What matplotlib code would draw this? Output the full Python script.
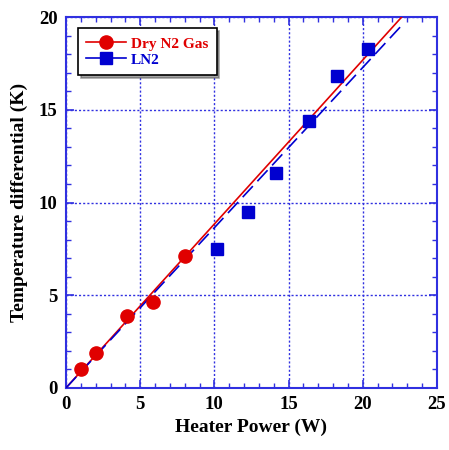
import matplotlib
matplotlib.use("Agg")
import matplotlib.pyplot as plt
import numpy as np
from matplotlib.ticker import MultipleLocator
from matplotlib.lines import Line2D

# Data
dry_x = [1.0, 2.0, 4.1, 5.85, 8.0]
dry_y = [1.02, 1.87, 3.86, 4.62, 7.12]
ln2_x = [10.2, 12.25, 14.15, 16.4, 18.3, 20.35]
ln2_y = [7.48, 9.49, 11.57, 14.41, 16.8, 18.26]
dry_slope = 0.884
ln2_slope = 0.864
fit_range = [0.0, 22.65]
labels = ["Dry N2 Gas", "LN2"]

RED = "#e00000"
BLUE = "#0000d0"
AX = "#3030e0"

plt.rcParams['font.family'] = ['Liberation Serif', 'DejaVu Serif']
plt.rcParams['font.weight'] = 'bold'

fig = plt.figure(figsize=(4.49, 4.5), dpi=100)
ax = fig.add_axes([0.147, 0.138, 0.826, 0.824])

fx = np.array(fit_range)
ax.plot(fx, dry_slope * fx, color=RED, lw=1.2, zorder=3)
ax.plot(fx, ln2_slope * fx, color=BLUE, lw=1.2, ls=(0, (9, 4)), zorder=3)
ax.plot(dry_x, dry_y, 'o', color=RED, ms=9.5, zorder=4)
ax.plot(ln2_x, ln2_y, 's', color=BLUE, ms=8.6, zorder=4)

ax.set_xlim(0, 25)
ax.set_ylim(0, 20)
ax.xaxis.set_major_locator(MultipleLocator(5))
ax.yaxis.set_major_locator(MultipleLocator(5))
ax.xaxis.set_minor_locator(MultipleLocator(1))
ax.yaxis.set_minor_locator(MultipleLocator(1))
ax.tick_params(which='both', direction='in', color=AX, top=True, right=True)
ax.tick_params(which='major', length=6, width=1.2, labelsize=13.5, pad=6)
ax.tick_params(which='minor', length=3.5, width=1.0)
for lab in ax.get_xticklabels() + ax.get_yticklabels():
    lab.set_fontweight('bold')
for s in ax.spines.values():
    s.set_color(AX)
    s.set_linewidth(1.5)
ax.grid(True, which='major', color=AX, ls=(0, (1.5, 1.5)), lw=1.0)

ax.set_xlabel("Heater Power (W)", fontsize=14, fontweight='bold', labelpad=4)
ax.set_ylabel("Temperature differential (K)", fontsize=14, fontweight='bold', labelpad=8)

handles = [Line2D([], [], color=RED, marker='o', ms=9.5, lw=1.2),
           Line2D([], [], color=BLUE, marker='s', ms=8.6, lw=1.2)]
leg = ax.legend(handles, labels, loc='upper left', bbox_to_anchor=(0.012, 0.99),
                fancybox=False, shadow=True, framealpha=1, edgecolor='black',
                prop={'family': 'Liberation Serif', 'weight': 'bold', 'size': 11},
                handlelength=2.6, handletextpad=0.3, borderpad=0.55, labelspacing=0.15)
leg.get_frame().set_linewidth(1.2)
for t, c in zip(leg.get_texts(), [RED, BLUE]):
    t.set_color(c)

fig.savefig("out.png", dpi=100)
